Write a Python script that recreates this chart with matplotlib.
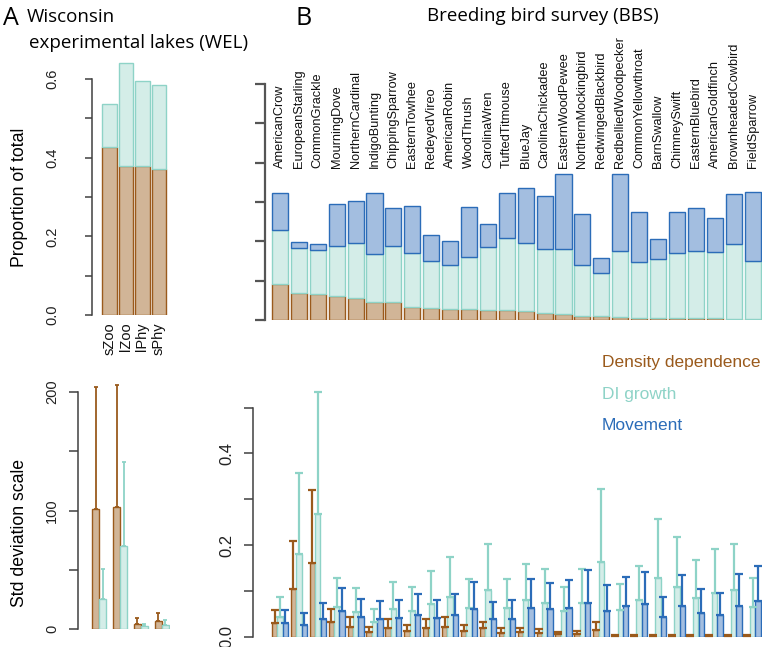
import matplotlib
matplotlib.use("Agg")
import matplotlib.pyplot as plt
import matplotlib.transforms as mtransforms
import numpy as np

# ---------------- data ----------------
wel_groups = ["sZoo", "lZoo", "lPhy", "sPhy"]
wel_dd = [0.428, 0.380, 0.380, 0.370]
wel_di = [0.108, 0.262, 0.214, 0.214]

wel_sd_dd = [101.5, 102.7, 4.5, 6.7]
wel_sd_dd_hi = [204, 206, 9.8, 13.5]
wel_sd_di = [25.5, 70, 2.8, 3.6]
wel_sd_di_hi = [51, 140.6, 4.7, 7.6]

species = ["AmericanCrow", "EuropeanStarling", "CommonGrackle", "MourningDove",
           "NorthernCardinal", "IndigoBunting", "ChippingSparrow", "EasternTowhee",
           "RedeyedVireo", "AmericanRobin", "WoodThrush", "CarolinaWren",
           "TuftedTitmouse", "BlueJay", "CarolinaChickadee", "EasternWoodPewee",
           "NorthernMockingbird", "RedwingedBlackbird", "RedbelliedWoodpecker",
           "CommonYellowthroat", "BarnSwallow", "ChimneySwift", "EasternBluebird",
           "AmericanGoldfinch", "BrownheadedCowbird", "FieldSparrow"]

bbs_dd = [0.091, 0.068, 0.067, 0.060, 0.055, 0.046, 0.045, 0.032, 0.031, 0.029,
          0.027, 0.025, 0.025, 0.022, 0.017, 0.015, 0.011, 0.011, 0.007, 0.006,
          0.004, 0.004, 0.004, 0.004, 0.003, 0.003]
bbs_di = [0.137, 0.114, 0.110, 0.127, 0.140, 0.121, 0.142, 0.138, 0.119, 0.112,
          0.134, 0.160, 0.183, 0.175, 0.164, 0.166, 0.128, 0.109, 0.169, 0.141,
          0.150, 0.166, 0.172, 0.169, 0.189, 0.146]
bbs_mv = [0.094, 0.017, 0.017, 0.107, 0.108, 0.157, 0.097, 0.119, 0.067, 0.059,
          0.127, 0.060, 0.116, 0.139, 0.133, 0.189, 0.130, 0.038, 0.194, 0.128,
          0.051, 0.104, 0.109, 0.086, 0.128, 0.176]

sd_dd = [0.029, 0.104, 0.161, 0.031, 0.022, 0.011, 0.019, 0.013, 0.020, 0.022,
         0.013, 0.018, 0.008, 0.010, 0.007, 0.005, 0.006, 0.015, 0.002, 0.002,
         0.002, 0.002, 0.002, 0.002, 0.002, 0.002]
sd_dd_hi = [0.058, 0.209, 0.321, 0.060, 0.042, 0.022, 0.039, 0.025, 0.038, 0.042,
            0.025, 0.032, 0.019, 0.020, 0.017, 0.010, 0.013, 0.033, 0.004, 0.004,
            0.004, 0.004, 0.004, 0.004, 0.004, 0.004]
sd_di = [0.044, 0.180, 0.268, 0.064, 0.053, 0.031, 0.060, 0.055, 0.071, 0.087,
         0.062, 0.101, 0.063, 0.080, 0.074, 0.055, 0.073, 0.162, 0.058, 0.079,
         0.129, 0.109, 0.084, 0.096, 0.102, 0.064]
sd_di_hi = [0.086, 0.357, 0.535, 0.128, 0.106, 0.060, 0.120, 0.109, 0.143, 0.174,
            0.125, 0.202, 0.126, 0.159, 0.147, 0.109, 0.147, 0.322, 0.115, 0.155,
            0.256, 0.217, 0.168, 0.191, 0.202, 0.129]
sd_mv = [0.029, 0.026, 0.038, 0.055, 0.042, 0.039, 0.041, 0.047, 0.040, 0.047,
         0.060, 0.039, 0.039, 0.063, 0.060, 0.062, 0.073, 0.056, 0.066, 0.071,
         0.044, 0.067, 0.052, 0.047, 0.068, 0.078]
sd_mv_hi = [0.058, 0.051, 0.074, 0.107, 0.083, 0.078, 0.080, 0.094, 0.079, 0.093,
            0.119, 0.076, 0.079, 0.126, 0.117, 0.124, 0.146, 0.112, 0.130, 0.142,
            0.086, 0.135, 0.104, 0.096, 0.137, 0.155]

legend_labels = ["Density dependence", "DI growth", "Movement"]

# ---------------- style ----------------
brown_edge = "#9A5A1C"
brown_fill = "#D1B597"
teal_edge = "#8ED3C7"
teal_fill = "#D4EDE8"
blue_edge = "#2B6CB8"
blue_fill = "#A3BEE0"
axis_col = "#404040"
FONT = "Liberation Sans"
TFONT = "Open Sans"

W, H = 762, 647
fig = plt.figure(figsize=(W / 100, H / 100), dpi=100)


def box(left, top, right, bottom):
    return [left / W, 1 - bottom / H, (right - left) / W, (bottom - top) / H]


def style_axis(ax, lo, hi, major, minor, labels, tlen, label_x, fs):
    for s in ["top", "right", "bottom"]:
        ax.spines[s].set_visible(False)
    ax.spines["left"].set_bounds(lo, hi)
    ax.spines["left"].set_color(axis_col)
    ax.spines["left"].set_linewidth(1.1)
    ax.set_yticks(list(major) + list(minor))
    ax.set_yticklabels([])
    ax.tick_params(axis="y", which="both", direction="out", length=tlen,
                   width=1.1, color=axis_col)
    if labels:
        tr = mtransforms.blended_transform_factory(fig.transFigure, ax.transData)
        for v, lab in zip(major, labels):
            ax.text(label_x / W, v, lab, transform=tr, rotation=90, ha="center",
                    va="center", fontsize=fs, family=FONT, color="#222222",
                    clip_on=False)


# ---------------- Panel A top ----------------
axA = fig.add_axes(box(92, 315 - 0.66 * 393.3, 170, 315))
xa = np.arange(len(wel_groups))
axA.bar(xa, wel_dd, width=0.88, color=brown_fill, edgecolor=brown_edge, linewidth=1.0)
axA.bar(xa, wel_di, bottom=wel_dd, width=0.88, color=teal_fill, edgecolor=teal_edge,
        linewidth=1.0)
axA.set_xlim(-1.06, 3.67)
axA.set_ylim(0, 0.66)
style_axis(axA, 0, 0.6, [0, 0.2, 0.4, 0.6], [0.1, 0.3, 0.5],
           ["0.0", "0.2", "0.4", "0.6"], 5, 52, 10.5)
axA.set_xticks(xa)
axA.set_xticklabels(wel_groups, rotation=90, fontsize=10.5, family=FONT, color="#111111")
axA.tick_params(axis="x", length=0, pad=5)

# ---------------- Panel A bottom ----------------
axA2 = fig.add_axes(box(78, 629.3 - 215 * 1.188, 170, 629.3))
off = 0.168
bw = 0.336
axA2.bar(xa - off, wel_sd_dd, width=bw, color=brown_fill, edgecolor=brown_edge, linewidth=1.0)
axA2.bar(xa + off, wel_sd_di, width=bw, color=teal_fill, edgecolor=teal_edge, linewidth=1.0)
axA2.errorbar(xa - off, wel_sd_dd,
              yerr=[np.zeros(4), np.array(wel_sd_dd_hi) - np.array(wel_sd_dd)],
              fmt="none", ecolor=brown_edge, elinewidth=1.3, capsize=1.3, capthick=1.3)
axA2.errorbar(xa + off, wel_sd_di,
              yerr=[np.zeros(4), np.array(wel_sd_di_hi) - np.array(wel_sd_di)],
              fmt="none", ecolor=teal_edge, elinewidth=1.3, capsize=1.3, capthick=1.3)
axA2.set_xlim(-1.024, 3.4)
axA2.set_ylim(0, 215)
style_axis(axA2, 0, 200, [0, 100, 200], [50, 150], ["0", "100", "200"], 6.5, 52, 10.5)
axA2.set_xticks([])

# ---------------- Panel B top ----------------
xs = np.arange(len(species))
axB = fig.add_axes(box(265, 84, 762, 320))
bd = np.array(bbs_dd)
bi = np.array(bbs_di)
bm = np.array(bbs_mv)
axB.bar(xs, bd, width=0.85, color=brown_fill, edgecolor=brown_edge, linewidth=1.0)
axB.bar(xs, bi, bottom=bd, width=0.85, color=teal_fill, edgecolor=teal_edge, linewidth=1.0)
axB.bar(xs, bm, bottom=bd + bi, width=0.85, color=blue_fill, edgecolor=blue_edge,
        linewidth=1.0)
axB.set_xlim(-0.794, 25.5)
axB.set_ylim(0, 0.6)
style_axis(axB, 0, 0.6, [0, 0.1, 0.2, 0.3, 0.4, 0.5, 0.6], [], None, 7, 0, 10)
axB.spines["left"].set_color("#555555")
axB.spines["left"].set_linewidth(1.6)
axB.tick_params(axis="y", width=1.6, color="#555555")
axB.set_xticks([])
for x, name in zip(xs, species):
    axB.text(x, 0.386, name, rotation=90, ha="center", va="bottom", fontsize=9.2,
             family=FONT, color="#111111", clip_on=False)

# ---------------- Panel B bottom ----------------
axB2 = fig.add_axes(box(253.3, 636.7 - 0.56 * 458.3, 762, 636.7))
o3 = 0.285
w3 = 0.28
series = [(sd_dd, sd_dd_hi, brown_fill, brown_edge, -o3),
          (sd_di, sd_di_hi, teal_fill, teal_edge, 0.0),
          (sd_mv, sd_mv_hi, blue_fill, blue_edge, o3)]
for vals, hi, fc, ec, dx in series:
    v = np.array(vals)
    h = np.array(hi)
    axB2.bar(xs + dx, v, width=w3, color=fc, edgecolor=ec, linewidth=1.0)
    axB2.errorbar(xs + dx, v, yerr=[np.zeros_like(v), h - v], fmt="none", ecolor=ec,
                  elinewidth=1.6, capsize=2.9, capthick=1.6)
axB2.set_xlim(-1.41, 25.5)
axB2.set_ylim(0, 0.56)
style_axis(axB2, 0, 0.5, [0, 0.2, 0.4], [0.1, 0.3, 0.5], ["0.0", "0.2", "0.4"], 6.5,
           227, 12)
axB2.set_xticks([])

# ---------------- texts ----------------
def ftext(x, y, s, **kw):
    fig.text(x / W, 1 - y / H, s, **kw)

ftext(3, 25, "A", fontsize=18, family=TFONT, va="baseline", ha="left")
ftext(27, 22, "Wisconsin", fontsize=13.5, family=TFONT, va="baseline", ha="left")
ftext(29, 48, "experimental lakes (WEL)", fontsize=13.5, family=TFONT, va="baseline",
      ha="left")
ftext(295, 25, "B", fontsize=18, family=TFONT, va="baseline", ha="left")
ftext(427, 21, "Breeding bird survey (BBS)", fontsize=13.5, family=TFONT,
      va="baseline", ha="left")

ftext(20, 197, "Proportion of total", rotation=90, fontsize=12.7, family=FONT,
      ha="center", va="center")
ftext(20, 533, "Std deviation scale", rotation=90, fontsize=12.7, family=FONT,
      ha="center", va="center")

for lab, col, yb in zip(legend_labels, [brown_edge, teal_edge, blue_edge],
                        [367, 399, 430.5]):
    ftext(602, yb, lab, fontsize=12.5, family=FONT, color=col, va="baseline", ha="left")

fig.savefig("out.png", dpi=100)
